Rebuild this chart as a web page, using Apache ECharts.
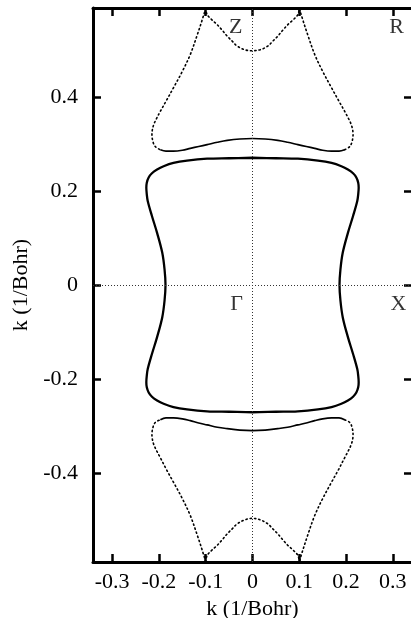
<!DOCTYPE html>
<html>
<head>
<meta charset="utf-8">
<script src="https://cdn.jsdelivr.net/npm/echarts@6/dist/echarts.min.js"></script>
<style>
  html, body { margin: 0; padding: 0; background: #fff; }
  #chart { width: 411px; height: 618px; }
</style>
</head>
<body>
<div id="chart"></div>
<script>
// Tick values (1/Bohr)
const xTicks = [-0.3, -0.2, -0.1, 0, 0.1, 0.2, 0.3];
const yTicks = [-0.4, -0.2, 0, 0.2, 0.4];

// Closed Fermi-surface sheet around Gamma
const fermiSheet = [
  [0, 0.271], [-0.05, 0.270], [-0.097, 0.269], [-0.14, 0.265], [-0.169, 0.260], [-0.19, 0.253],
  [-0.204, 0.246], [-0.215, 0.238], [-0.222, 0.229], [-0.226, 0.218], [-0.227, 0.207], [-0.226, 0.193],
  [-0.224, 0.179], [-0.215, 0.147], [-0.204, 0.111], [-0.193, 0.069], [-0.188, 0.033], [-0.186, 0],
  [-0.188, -0.033], [-0.193, -0.069], [-0.204, -0.111], [-0.215, -0.147], [-0.224, -0.179], [-0.226, -0.193],
  [-0.227, -0.207], [-0.226, -0.218], [-0.222, -0.229], [-0.215, -0.238], [-0.204, -0.246], [-0.19, -0.253],
  [-0.169, -0.260], [-0.14, -0.265], [-0.097, -0.269], [-0.05, -0.270], [0, -0.271],
  [0.05, -0.270], [0.097, -0.269], [0.14, -0.265], [0.169, -0.260], [0.19, -0.253], [0.204, -0.246],
  [0.215, -0.238], [0.222, -0.229], [0.226, -0.218], [0.227, -0.207], [0.226, -0.193], [0.224, -0.179],
  [0.215, -0.147], [0.204, -0.111], [0.193, -0.069], [0.188, -0.033], [0.186, 0],
  [0.188, 0.033], [0.193, 0.069], [0.204, 0.111], [0.215, 0.147], [0.224, 0.179], [0.226, 0.193],
  [0.227, 0.207], [0.226, 0.218], [0.222, 0.229], [0.215, 0.238], [0.204, 0.246], [0.19, 0.253],
  [0.169, 0.260], [0.14, 0.265], [0.097, 0.269], [0.05, 0.270], [0, 0.271]
];

// Outer sheet, upper half: steep arms (sparse) and flat middle
const upperLeftArm = [
  [-0.1, 0.59], [-0.104, 0.576], [-0.118, 0.533], [-0.133, 0.491], [-0.15, 0.455], [-0.169, 0.420],
  [-0.184, 0.393], [-0.197, 0.370], [-0.205, 0.355], [-0.211, 0.342], [-0.214, 0.331], [-0.215, 0.321],
  [-0.213, 0.306], [-0.208, 0.295], [-0.197, 0.288]
];
const upperMiddle = [
  [-0.197, 0.288], [-0.185, 0.285], [-0.169, 0.285], [-0.15, 0.287], [-0.133, 0.291], [-0.115, 0.295],
  [-0.097, 0.299], [-0.075, 0.304], [-0.054, 0.308], [-0.027, 0.311], [0, 0.312],
  [0.027, 0.311], [0.054, 0.308], [0.075, 0.304], [0.097, 0.299], [0.115, 0.295], [0.133, 0.291],
  [0.15, 0.287], [0.169, 0.285], [0.185, 0.285], [0.197, 0.288]
];
const upperRightArm = [
  [0.197, 0.288], [0.208, 0.295], [0.213, 0.306], [0.215, 0.321], [0.214, 0.331], [0.211, 0.342],
  [0.205, 0.355], [0.197, 0.370], [0.184, 0.393], [0.169, 0.420], [0.15, 0.455], [0.133, 0.491],
  [0.118, 0.533], [0.104, 0.576], [0.1, 0.59]
];
// Pocket around Z
const upperZPocket = [
  [-0.1, 0.59], [-0.097, 0.576], [-0.086, 0.564], [-0.076, 0.555], [-0.065, 0.543], [-0.054, 0.530],
  [-0.043, 0.519], [-0.033, 0.509], [-0.016, 0.501], [0, 0.499],
  [0.016, 0.501], [0.033, 0.509], [0.043, 0.519], [0.054, 0.530], [0.065, 0.543], [0.076, 0.555],
  [0.086, 0.564], [0.097, 0.576], [0.1, 0.59]
];

// Outer sheet, lower half
const lowerLeftArm = [
  [-0.1, -0.59], [-0.104, -0.576], [-0.118, -0.533], [-0.133, -0.491], [-0.15, -0.455], [-0.169, -0.420],
  [-0.184, -0.393], [-0.197, -0.368], [-0.205, -0.353], [-0.211, -0.340], [-0.214, -0.329], [-0.215, -0.319],
  [-0.213, -0.304], [-0.208, -0.293], [-0.197, -0.287]
];
const lowerMiddle = [
  [-0.197, -0.287], [-0.185, -0.283], [-0.169, -0.283], [-0.15, -0.285], [-0.133, -0.289], [-0.115, -0.294],
  [-0.097, -0.298], [-0.075, -0.303], [-0.054, -0.306], [-0.027, -0.309], [0, -0.310],
  [0.027, -0.309], [0.054, -0.306], [0.075, -0.303], [0.097, -0.298], [0.115, -0.294], [0.133, -0.289],
  [0.15, -0.285], [0.169, -0.283], [0.185, -0.283], [0.197, -0.287]
];
const lowerRightArm = [
  [0.197, -0.287], [0.208, -0.293], [0.213, -0.304], [0.215, -0.319], [0.214, -0.329], [0.211, -0.340],
  [0.205, -0.353], [0.197, -0.368], [0.184, -0.393], [0.169, -0.420], [0.15, -0.455], [0.133, -0.491],
  [0.118, -0.533], [0.104, -0.576], [0.1, -0.59]
];
const lowerZPocket = [
  [-0.1, -0.59], [-0.097, -0.576], [-0.086, -0.564], [-0.076, -0.555], [-0.065, -0.543], [-0.054, -0.530],
  [-0.043, -0.519], [-0.033, -0.509], [-0.016, -0.500], [0, -0.497],
  [0.016, -0.500], [0.033, -0.509], [0.043, -0.519], [0.054, -0.530], [0.065, -0.543], [0.076, -0.555],
  [0.086, -0.564], [0.097, -0.576], [0.1, -0.59]
];

// High-symmetry point names and where they are written
const pointNames = ['Z', 'R', 'Γ', 'X'];
const pointAnchors = [[-0.036, 0.548], [0.308, 0.548], [-0.034, -0.040], [0.312, -0.040]];

const FONT = 'Liberation Serif';
const FONT_SIZE = 22;
const fmt = v => (Math.abs(v) < 1e-9 ? '0' : String(+v.toFixed(1)));

const dotted = { color: '#000', width: 1.6, type: [1.3, 3], cap: 'round' };
const thin = { color: '#000', width: 1.7 };
const thick = { color: '#000', width: 2.3 };

function curve(name, data, lineStyle) {
  return {
    name, type: 'line', data, lineStyle, smooth: 0.35,
    symbol: 'none', showSymbol: false, silent: true, z: 3,
    xAxisIndex: 0, yAxisIndex: 0
  };
}

const axisLine = { show: true, onZero: false, lineStyle: { color: '#000', width: 3 } };
const tickStyle = { color: '#000', width: 2.5 };

const chart = echarts.init(document.getElementById('chart'), null, { renderer: 'canvas' });
chart.setOption({
  animation: false,
  backgroundColor: '#fff',
  grid: { left: 93, right: -1, top: 8, bottom: 56, containLabel: false, outerBoundsMode: 'none' },
  xAxis: [
    {
      type: 'value', position: 'bottom', min: -0.341, max: 0.341,
      axisLine, splitLine: { show: false },
      axisTick: { inside: true, length: 8, lineStyle: tickStyle, customValues: xTicks },
      axisLabel: { customValues: xTicks, formatter: fmt, fontFamily: FONT, fontSize: FONT_SIZE, color: '#000', margin: 9 },
      name: 'k (1/Bohr)', nameLocation: 'middle', nameGap: 26,
      nameTextStyle: { fontFamily: FONT, fontSize: FONT_SIZE, color: '#000' }
    },
    {
      type: 'value', position: 'top', min: -0.341, max: 0.341,
      axisLine, splitLine: { show: false },
      axisTick: { inside: true, length: 8, lineStyle: tickStyle, customValues: xTicks },
      axisLabel: { show: false }
    }
  ],
  yAxis: [
    {
      type: 'value', position: 'left', min: -0.59, max: 0.59,
      axisLine, splitLine: { show: false },
      axisTick: { inside: true, length: 8, lineStyle: tickStyle, customValues: yTicks },
      axisLabel: { customValues: yTicks, formatter: fmt, fontFamily: FONT, fontSize: FONT_SIZE, color: '#000', margin: 15 },
      name: 'k (1/Bohr)', nameLocation: 'middle', nameGap: 61, nameRotate: 90,
      nameTextStyle: { fontFamily: FONT, fontSize: FONT_SIZE, color: '#000' }
    },
    {
      type: 'value', position: 'right', min: -0.59, max: 0.59,
      axisLine, splitLine: { show: false },
      axisTick: { inside: true, length: 8, lineStyle: tickStyle, customValues: yTicks },
      axisLabel: { show: false }
    }
  ],
  series: [
    Object.assign(curve('fermiSheet', fermiSheet, thick), {
      markLine: {
        silent: true, symbol: ['none', 'none'], label: { show: false },
        lineStyle: { color: '#333', width: 1, type: [1, 2] },
        emphasis: { disabled: true },
        data: [{ xAxis: 0 }, { yAxis: 0 }]
      }
    }),
    curve('upperLeftArm', upperLeftArm, dotted),
    curve('upperMiddle', upperMiddle, thin),
    curve('upperRightArm', upperRightArm, dotted),
    curve('upperZPocket', upperZPocket, dotted),
    curve('lowerLeftArm', lowerLeftArm, dotted),
    curve('lowerMiddle', lowerMiddle, thin),
    curve('lowerRightArm', lowerRightArm, dotted),
    curve('lowerZPocket', lowerZPocket, dotted),
    {
      name: 'points', type: 'scatter', symbol: 'circle', symbolSize: 0, silent: true, z: 5,
      data: pointNames.map((n, i) => ({ name: n, value: pointAnchors[i] })),
      label: {
        show: true, position: 'inside', formatter: '{b}',
        fontFamily: FONT, fontSize: FONT_SIZE, color: '#000'
      }
    }
  ]
});
</script>
</body>
</html>
